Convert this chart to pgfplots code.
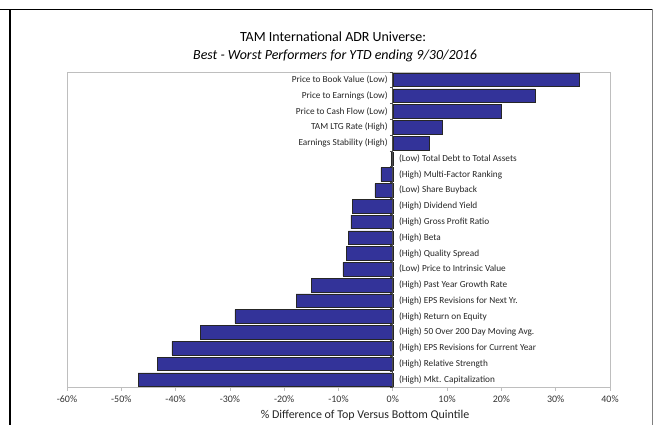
\documentclass[border=0pt]{standalone}
\usepackage{fontspec}
\setmainfont{Carlito}
\usepackage{pgfplots}
\pgfplotsset{compat=1.18}
\usepackage{pgfplotstable}

\definecolor{barblue}{RGB}{51,51,153}
\definecolor{boxgray}{RGB}{190,190,190}

% factor spreads, top to bottom
\pgfplotstableread[col sep=comma]{
pos,value
0,34.4
1,26.2
2,19.9
3,9.1
4,6.8
5,-0.3
6,-2.2
7,-3.3
8,-7.4
9,-7.7
10,-8.2
11,-8.5
12,-9.2
13,-15.0
14,-17.8
15,-29.1
16,-35.5
17,-40.7
18,-43.4
19,-46.9
}\spreads

\begin{document}
\begin{tikzpicture}[x=1bp,y=1bp]
\useasboundingbox (0,0) rectangle (653,425);
% page frame
\draw[line width=1.6bp,black] (0,415.5) -- (653,415.5);
\draw[line width=1.6bp,black] (10,415.5) -- (10,0);
\draw[line width=0.8bp,gray] (652,415.5) -- (652,0);

\node[font=\fontsize{14}{16}\selectfont] at (333,388) {TAM International ADR Universe:};
\node[font=\fontsize{14}{16}\selectfont\itshape] at (335,369) {Best - Worst Performers for YTD ending 9/30/2016};

\begin{axis}[
  at={(67bp,37.5bp)}, anchor=south west,
  scale only axis, width=543bp, height=315.5bp,
  xmin=-60, xmax=40, ymin=-0.5, ymax=19.5,
  y dir=reverse,
  xbar, bar width=13.6bp,
  axis line style={boxgray, line width=0.8bp},
  xtick={-60,-50,-40,-30,-20,-10,0,10,20,30,40},
  xticklabels={-60\%,-50\%,-40\%,-30\%,-20\%,-10\%,0\%,10\%,20\%,30\%,40\%},
  xtick pos=bottom, tick align=outside,
  major tick length=3bp,
  tick style={boxgray, line width=0.8bp},
  ytick=\empty,
  ticklabel style={font=\fontsize{10}{11}\selectfont, text=black!80},
  xticklabel style={yshift=-2bp},
  clip=false,
]
\addplot[fill=barblue, draw=black!85, line width=0.5bp] table[x=value, y=pos] {\spreads};

% vertical zero axis with category ticks
\draw[black!70, line width=0.7bp] (axis cs:0,-0.5) -- (axis cs:0,19.5);
\pgfplotsinvokeforeach{0,...,20}{
  \draw[black!70, line width=0.6bp] ([xshift=-3bp]axis cs:0,#1-0.5) -- (axis cs:0,#1-0.5);
}

\begin{scope}[every node/.style={font=\fontsize{9.3}{10}\selectfont, inner sep=0pt, text=black!85}]
\node[anchor=east] at ([xshift=-5bp]axis cs:0,0) {Price to Book Value (Low)};
\node[anchor=east] at ([xshift=-5bp]axis cs:0,1) {Price to Earnings (Low)};
\node[anchor=east] at ([xshift=-5bp]axis cs:0,2) {Price to Cash Flow (Low)};
\node[anchor=east] at ([xshift=-5bp]axis cs:0,3) {TAM LTG Rate (High)};
\node[anchor=east] at ([xshift=-5bp]axis cs:0,4) {Earnings Stability (High)};
\node[anchor=west] at ([xshift=6bp]axis cs:0,5) {(Low) Total Debt to Total Assets};
\node[anchor=west] at ([xshift=6bp]axis cs:0,6) {(High) Multi-Factor Ranking};
\node[anchor=west] at ([xshift=6bp]axis cs:0,7) {(Low) Share Buyback};
\node[anchor=west] at ([xshift=6bp]axis cs:0,8) {(High) Dividend Yield};
\node[anchor=west] at ([xshift=6bp]axis cs:0,9) {(High) Gross Profit Ratio};
\node[anchor=west] at ([xshift=6bp]axis cs:0,10) {(High) Beta};
\node[anchor=west] at ([xshift=6bp]axis cs:0,11) {(High) Quality Spread};
\node[anchor=west] at ([xshift=6bp]axis cs:0,12) {(Low) Price to Intrinsic Value};
\node[anchor=west] at ([xshift=6bp]axis cs:0,13) {(High) Past Year Growth Rate};
\node[anchor=west] at ([xshift=6bp]axis cs:0,14) {(High) EPS Revisions for Next Yr.};
\node[anchor=west] at ([xshift=6bp]axis cs:0,15) {(High) Return on Equity};
\node[anchor=west] at ([xshift=6bp]axis cs:0,16) {(High) 50 Over 200 Day Moving Avg.};
\node[anchor=west] at ([xshift=6bp]axis cs:0,17) {(High) EPS Revisions for Current Year};
\node[anchor=west] at ([xshift=6bp]axis cs:0,18) {(High) Relative Strength};
\node[anchor=west] at ([xshift=6bp]axis cs:0,19) {(High) Mkt. Capitalization};
\end{scope}
\end{axis}

\node[font=\fontsize{12}{14}\selectfont, text=black!85] at (365,10) {\% Difference of Top Versus Bottom Quintile};
\end{tikzpicture}
\end{document}
